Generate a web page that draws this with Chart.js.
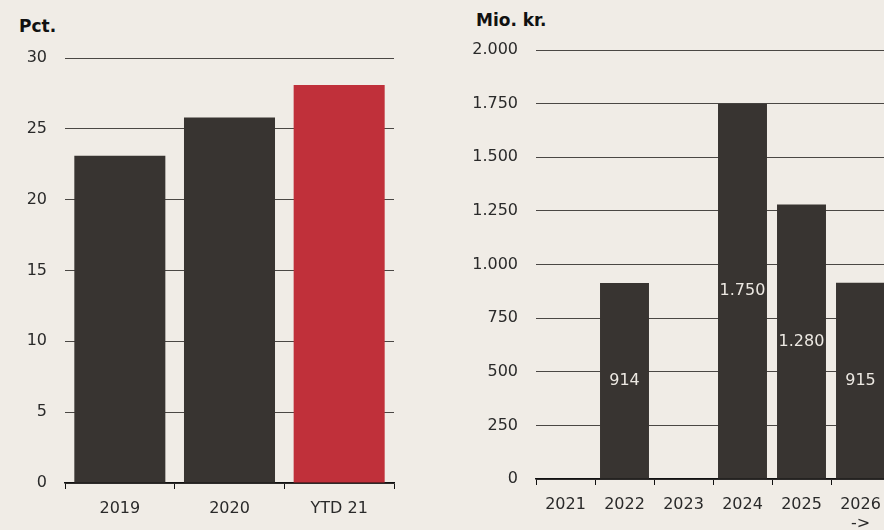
<!DOCTYPE html>
<html>
<head>
<meta charset="utf-8">
<script src="https://cdn.jsdelivr.net/npm/chart.js@4.4.1/dist/chart.umd.min.js"></script>
<style>
  html, body { margin: 0; padding: 0; background: #f0ece6; overflow: hidden; }
  body { width: 884px; height: 530px; position: relative; font-family: "DejaVu Sans", sans-serif; }
  .box { position: absolute; top: 0; height: 530px; }
  .unit { position: absolute; font-weight: bold; font-size: 17px; color: #111; }
</style>
</head>
<body>
<div class="unit" style="left:19px; top:16px;">Pct.</div>
<div class="unit" style="left:476px; top:10px;">Mio. kr.</div>
<div class="box" style="left:0; width:420px;"><canvas id="leftChart"></canvas></div>
<div class="box" style="left:460px; width:440px;"><canvas id="rightChart"></canvas></div>
<script>
// Left chart: share in pct.
const leftLabels = ["2019", "2020", "YTD 21"];
const leftValues = [23.1, 25.8, 28.1];
const leftColors = ["#383431", "#383431", "#c0303a"];
const leftTicks = [0, 5, 10, 15, 20, 25, 30];

// Right chart: mio. kr.
const rightLabels = ["2021", "2022", "2023", "2024", "2025", ["2026", "->"]];
const rightValues = [null, 914, null, 1750, 1280, 915];
const rightTicks = [0, 250, 500, 750, 1000, 1250, 1500, 1750, 2000];

Chart.defaults.font.family = '"DejaVu Sans", sans-serif';
Chart.defaults.font.size = 16;
Chart.defaults.color = "#2a2a2a";

// Danish thousand separator
function fmt(v) {
    return String(v).replace(/\B(?=(\d{3})+(?!\d))/g, ".");
}

// Value labels in the middle of each bar
const barLabels = {
    id: "barLabels",
    afterDatasetsDraw(chart) {
        if (!chart.options.showValues) return;
        const ctx = chart.ctx;
        const meta = chart.getDatasetMeta(0);
        ctx.save();
        ctx.fillStyle = "#ece8e2";
        ctx.font = '16px "DejaVu Sans", sans-serif';
        ctx.textAlign = "center";
        ctx.textBaseline = "middle";
        meta.data.forEach(function(bar, i) {
            let v = chart.data.datasets[0].data[i];
            if (v == null) return;
            ctx.fillText(fmt(v), bar.x, (bar.y + bar.base) / 2);
        });
        ctx.restore();
    }
};

function makeOptions(ticks, max, yWidth, xHeight, pad, showValues) {
    return {
        responsive: true,
        maintainAspectRatio: false,
        animation: false,
        showValues: showValues,
        layout: { padding: pad },
        plugins: { legend: { display: false }, tooltip: { enabled: false } },
        scales: {
            x: {
                grid: { offset: true, drawOnChartArea: false, drawTicks: true, tickLength: 6, color: "#111" },
                border: { display: true, color: "#111", width: 1.5 },
                ticks: { padding: 10, color: "#2a2a2a" },
                afterFit: function(s) { s.height = xHeight; }
            },
            y: {
                min: 0,
                max: max,
                grid: { color: "#4a4744", lineWidth: 1, drawTicks: false },
                border: { display: false },
                afterBuildTicks: function(s) { s.ticks = ticks.map(function(v) { return { value: v }; }); },
                ticks: { padding: 18, color: "#2a2a2a", callback: function(v) { return fmt(v); } },
                afterFit: function(s) { s.width = yWidth; }
            }
        }
    };
}

let leftChart = new Chart(document.getElementById("leftChart"), {
    type: "bar",
    data: {
        labels: leftLabels,
        datasets: [{ data: leftValues, backgroundColor: leftColors, categoryPercentage: 1, barPercentage: 0.83 }]
    },
    options: makeOptions(leftTicks, 30, 65, 47, { top: 58, right: 26, left: 0, bottom: 0 }, false),
    plugins: [barLabels]
});

let rightChart = new Chart(document.getElementById("rightChart"), {
    type: "bar",
    data: {
        labels: rightLabels,
        datasets: [{ data: rightValues, backgroundColor: "#383431", categoryPercentage: 1, barPercentage: 0.83 }]
    },
    options: makeOptions(rightTicks, 2000, 76, 51, { top: 50, right: 10, left: 0, bottom: 0 }, true),
    plugins: [barLabels]
});
</script>
</body>
</html>
